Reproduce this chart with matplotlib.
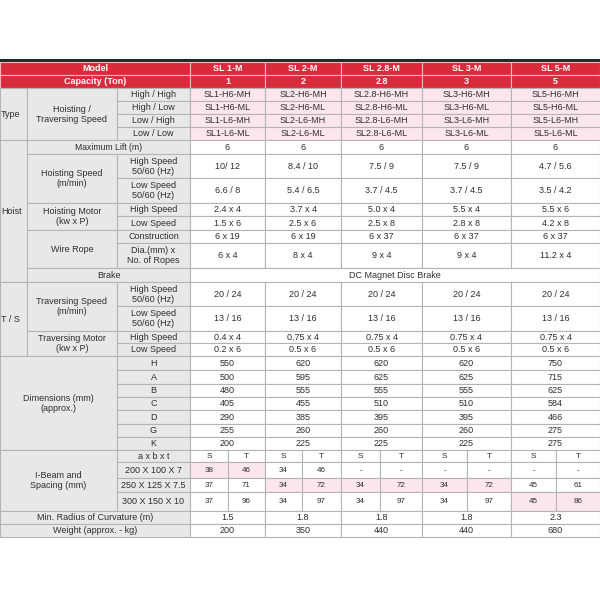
import matplotlib.pyplot as plt
from matplotlib.patches import Rectangle

plt.rcParams['font.family'] = ['Liberation Sans', 'DejaVu Sans']

# ---- data ----
models = ['SL 1-M', 'SL 2-M', 'SL 2.8-M', 'SL 3-M', 'SL 5-M']
capacity = ['1', '2', '2.8', '3', '5']
type_speeds = ['High / High', 'High / Low', 'Low / High', 'Low / Low']
type_codes = [
    ['SL1-H6-MH', 'SL2-H6-MH', 'SL2.8-H6-MH', 'SL3-H6-MH', 'SL5-H6-MH'],
    ['SL1-H6-ML', 'SL2-H6-ML', 'SL2.8-H6-ML', 'SL3-H6-ML', 'SL5-H6-ML'],
    ['SL1-L6-MH', 'SL2-L6-MH', 'SL2.8-L6-MH', 'SL3-L6-MH', 'SL5-L6-MH'],
    ['SL1-L6-ML', 'SL2-L6-ML', 'SL2.8-L6-ML', 'SL3-L6-ML', 'SL5-L6-ML'],
]
max_lift = ['6', '6', '6', '6', '6']
hoist_speed_high = ['10/ 12', '8.4 / 10', '7.5 / 9', '7.5 / 9', '4.7 / 5.6']
hoist_speed_low = ['6.6 / 8', '5.4 / 6.5', '3.7 / 4.5', '3.7 / 4.5', '3.5 / 4.2']
hoist_motor_high = ['2.4 x 4', '3.7 x 4', '5.0 x 4', '5.5 x 4', '5.5 x 6']
hoist_motor_low = ['1.5 x 6', '2.5 x 6', '2.5 x 8', '2.8 x 8', '4.2 x 8']
rope_construction = ['6 x 19', '6 x 19', '6 x 37', '6 x 37', '6 x 37']
rope_dia = ['6 x 4', '8 x 4', '9 x 4', '9 x 4', '11.2 x 4']
brake = 'DC Magnet Disc Brake'
trav_speed_high = ['20 / 24', '20 / 24', '20 / 24', '20 / 24', '20 / 24']
trav_speed_low = ['13 / 16', '13 / 16', '13 / 16', '13 / 16', '13 / 16']
trav_motor_high = ['0.4 x 4', '0.75 x 4', '0.75 x 4', '0.75 x 4', '0.75 x 4']
trav_motor_low = ['0.2 x 6', '0.5 x 6', '0.5 x 6', '0.5 x 6', '0.5 x 6']
dim_labels = ['H', 'A', 'B', 'C', 'D', 'G', 'K']
dim_values = [
    [550, 620, 620, 620, 750],
    [500, 595, 625, 625, 715],
    [480, 555, 555, 555, 625],
    [405, 455, 510, 510, 584],
    [290, 385, 395, 395, 466],
    [255, 260, 260, 260, 275],
    [200, 225, 225, 225, 275],
]
beam_sizes = ['200 X 100 X 7', '250 X 125 X 7.5', '300 X 150 X 10']
beam_s = [
    ['38', '34', '-', '-', '-'],
    ['37', '34', '34', '34', '45'],
    ['37', '34', '34', '34', '45'],
]
beam_t = [
    ['46', '46', '-', '-', '-'],
    ['71', '72', '72', '72', '61'],
    ['96', '97', '97', '97', '86'],
]
# which beam row is marked for each model
beam_marked = [0, 1, 1, 1, 2]
min_radius = ['1.5', '1.8', '1.8', '1.8', '2.3']
weight = ['200', '350', '440', '440', '680']

# ---- layout (pixels) ----
RED = '#d92b3c'
GRAY = '#e8e8e8'
PINK = '#fce6ee'
GRID = '#b4b4b4'
TXT = '#2e2e2e'
FS = 6.5

X_GROUP, X_LABEL, X_SUB, X_DATA = 0, 27, 117, 190
model_x = [190, 265, 341, 422, 511, 600]
split_x = [228, 302, 380, 467, 556]
row_y = [62, 75, 88, 101, 114, 127, 140, 154, 178, 203, 216, 230, 243, 268,
         282, 306, 331, 343, 356, 370, 384, 397, 410, 424, 437, 450, 462,
         478, 492, 511, 524, 537]

fig = plt.figure(figsize=(6, 6), dpi=100)
ax = fig.add_axes([0, 0, 1, 1])
ax.set_xlim(0, 600)
ax.set_ylim(600, 0)
ax.axis('off')


def cell(x0, x1, r0, r1, text='', bg='white', color=TXT, bold=False,
         ha='center', edge=GRID, size=FS):
    y0, y1 = row_y[r0], row_y[r1 + 1]
    ax.add_patch(Rectangle((x0, y0), x1 - x0, y1 - y0, facecolor=bg,
                           edgecolor=edge, lw=0.8))
    if text != '':
        tx = (x0 + x1) / 2 if ha == 'center' else x0 + 1
        ax.text(tx, (y0 + y1) / 2 + 0.3, str(text), ha=ha, va='center',
                fontsize=size, color=color, linespacing=1.15,
                fontweight='bold' if bold else 'normal')


def model_row(r, values, bg='white'):
    for i, v in enumerate(values):
        cell(model_x[i], model_x[i + 1], r, r, v, bg=bg)


# black bar on top
ax.add_patch(Rectangle((0, 58.5), 600, 3.5, facecolor='#262626', lw=0))

# header
cell(0, X_DATA, 0, 0, 'Model', bg=RED, color='white', bold=True, edge='#f2b8bf')
cell(0, X_DATA, 1, 1, 'Capacity (Ton)', bg=RED, color='white', bold=True, edge='#f2b8bf')
for i in range(5):
    cell(model_x[i], model_x[i + 1], 0, 0, models[i], bg=RED, color='white',
         bold=True, edge='#f2b8bf')
    cell(model_x[i], model_x[i + 1], 1, 1, capacity[i], bg=RED, color='white',
         bold=True, edge='#f2b8bf')

# Type
cell(X_GROUP, X_LABEL, 2, 5, 'Type', bg=GRAY, ha='left')
cell(X_LABEL, X_SUB, 2, 5, 'Hoisting /\nTraversing Speed', bg=GRAY)
for k in range(4):
    cell(X_SUB, X_DATA, 2 + k, 2 + k, type_speeds[k], bg=GRAY)
    model_row(2 + k, type_codes[k], bg=PINK)

# Hoist
cell(X_GROUP, X_LABEL, 6, 13, 'Hoist', bg=GRAY, ha='left')
cell(X_LABEL, X_DATA, 6, 6, 'Maximum Lift (m)', bg=GRAY, size=6.2)
model_row(6, max_lift)
cell(X_LABEL, X_SUB, 7, 8, 'Hoisting Speed\n(m/min)', bg=GRAY)
cell(X_SUB, X_DATA, 7, 7, 'High Speed\n50/60 (Hz)', bg=GRAY)
cell(X_SUB, X_DATA, 8, 8, 'Low Speed\n50/60 (Hz)', bg=GRAY)
model_row(7, hoist_speed_high)
model_row(8, hoist_speed_low)
cell(X_LABEL, X_SUB, 9, 10, 'Hoisting Motor\n(kw x P)', bg=GRAY)
cell(X_SUB, X_DATA, 9, 9, 'High Speed', bg=GRAY)
cell(X_SUB, X_DATA, 10, 10, 'Low Speed', bg=GRAY)
model_row(9, hoist_motor_high)
model_row(10, hoist_motor_low)
cell(X_LABEL, X_SUB, 11, 12, 'Wire Rope', bg=GRAY)
cell(X_SUB, X_DATA, 11, 11, 'Construction', bg=GRAY)
cell(X_SUB, X_DATA, 12, 12, 'Dia.(mm) x\nNo. of Ropes', bg=GRAY)
model_row(11, rope_construction)
model_row(12, rope_dia)
cell(X_LABEL, X_DATA, 13, 13, 'Brake', bg=GRAY)
cell(X_DATA, 600, 13, 13, brake)

# T / S
cell(X_GROUP, X_LABEL, 14, 17, 'T / S', bg=GRAY, ha='left')
cell(X_LABEL, X_SUB, 14, 15, 'Traversing Speed\n(m/min)', bg=GRAY)
cell(X_SUB, X_DATA, 14, 14, 'High Speed\n50/60 (Hz)', bg=GRAY)
cell(X_SUB, X_DATA, 15, 15, 'Low Speed\n50/60 (Hz)', bg=GRAY)
model_row(14, trav_speed_high)
model_row(15, trav_speed_low)
cell(X_LABEL, X_SUB, 16, 17, 'Traversing Motor\n(kw x P)', bg=GRAY)
cell(X_SUB, X_DATA, 16, 16, 'High Speed', bg=GRAY)
cell(X_SUB, X_DATA, 17, 17, 'Low Speed', bg=GRAY)
model_row(16, trav_motor_high)
model_row(17, trav_motor_low)

# Dimensions
cell(X_GROUP, X_SUB, 18, 24, 'Dimensions (mm)\n(approx.)', bg=GRAY)
for k, lab in enumerate(dim_labels):
    cell(X_SUB, X_DATA, 18 + k, 18 + k, lab, bg=GRAY)
    model_row(18 + k, dim_values[k])

# I-Beam
cell(X_GROUP, X_SUB, 25, 28, 'I-Beam and\nSpacing (mm)', bg=GRAY)
cell(X_SUB, X_DATA, 25, 25, 'a x b x t', bg=GRAY)
for i in range(5):
    cell(model_x[i], split_x[i], 25, 25, 'S', size=6)
    cell(split_x[i], model_x[i + 1], 25, 25, 'T', size=6)
for k, size in enumerate(beam_sizes):
    r = 26 + k
    cell(X_SUB, X_DATA, r, r, size, bg=GRAY)
    for i in range(5):
        bg = PINK if beam_marked[i] == k else 'white'
        cell(model_x[i], split_x[i], r, r, beam_s[k][i], bg=bg, size=5.8)
        cell(split_x[i], model_x[i + 1], r, r, beam_t[k][i], bg=bg, size=5.8)

cell(X_GROUP, X_DATA, 29, 29, 'Min. Radius of Curvature (m)', bg=GRAY)
model_row(29, min_radius)
cell(X_GROUP, X_DATA, 30, 30, 'Weight (approx. - kg)', bg=GRAY)
model_row(30, weight)

fig.savefig('out.png', dpi=100, facecolor='white')
